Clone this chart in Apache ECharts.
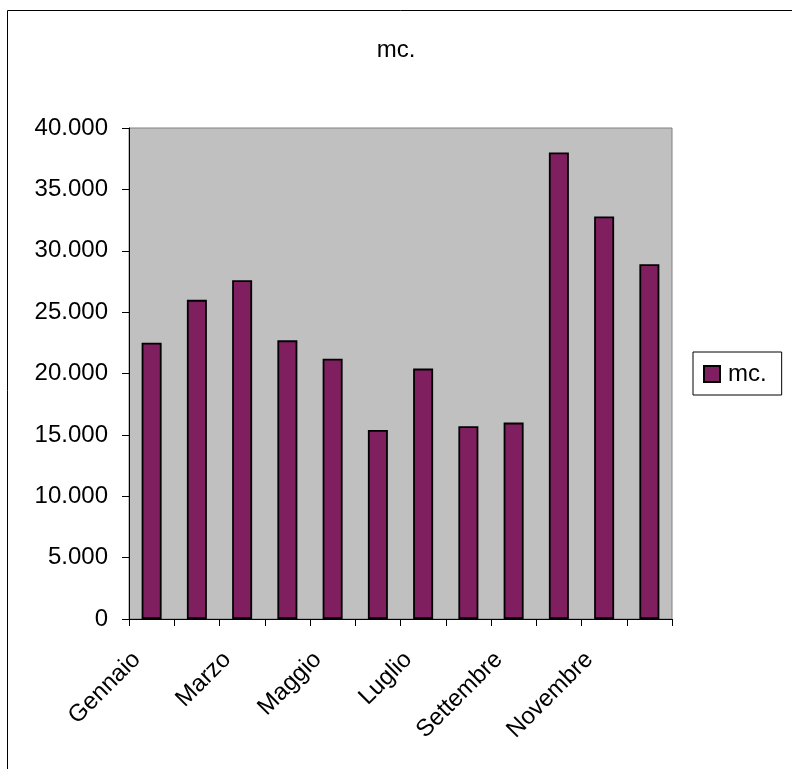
<!DOCTYPE html>
<html>
<head>
<meta charset="utf-8">
<script src="https://cdn.jsdelivr.net/npm/echarts@6/dist/echarts.min.js"></script>
<style>html,body{margin:0;padding:0;background:#fff}#c{width:792px;height:769px}</style>
</head>
<body>
<div id="c"></div>
<script>
const categories = ['Gennaio','Febbraio','Marzo','Aprile','Maggio','Giugno','Luglio','Agosto','Settembre','Ottobre','Novembre','Dicembre'];
const seriesName = 'mc.';
const values = [22500, 26000, 27600, 22700, 21200, 15400, 20400, 15700, 16000, 38000, 32800, 28900];
const yMin = 0, yMax = 40000, yStep = 5000;

const FONT = '"Liberation Sans", Arial, sans-serif';
function fmt(v){ return String(v).replace(/\B(?=(\d{3})+(?!\d))/g, '.'); }

const chart = echarts.init(document.getElementById('c'), null, {renderer:'canvas'});
chart.setOption({
  backgroundColor: '#ffffff',
  animation: false,
  textStyle: { fontFamily: FONT, color: '#000' },
  title: {
    text: seriesName, left: 'center', top: 33,
    textStyle: { fontFamily: FONT, fontSize: 24, fontWeight: 'normal', color: '#000' }
  },
  legend: {
    left: 693, top: 352, orient: 'vertical',
    padding: [10, 15, 9, 10],
    borderColor: '#000', borderWidth: 1,
    itemWidth: 16, itemHeight: 16, itemGap: 0,
    textStyle: { fontFamily: FONT, fontSize: 24, color: '#000', padding: [0,0,0,3] },
    data: [{ name: seriesName, icon: 'rect' }]
  },
  graphic: [{
    type: 'rect', silent: true, z: 100,
    shape: { x: 7.5, y: 10.5, width: 900, height: 900 },
    style: { fill: 'none', stroke: '#000', lineWidth: 1 }
  }],
  grid: {
    left: 129, top: 128, width: 543, height: 491,
    show: true, backgroundColor: '#c0c0c0', borderColor: '#808080', borderWidth: 1
  },
  xAxis: {
    type: 'category', data: categories, boundaryGap: true,
    axisLine: { lineStyle: { color: '#000', width: 1 } },
    axisTick: { show: true, length: 7, interval: 0, alignWithLabel: false, lineStyle: { color: '#000' } },
    axisLabel: { interval: 1, rotate: 45, margin: 22, padding: [0, 21, 0, 0], fontFamily: FONT, fontSize: 24, color: '#000' },
    splitLine: { show: false }
  },
  yAxis: {
    type: 'value', min: yMin, max: yMax, interval: yStep,
    axisLine: { show: true, lineStyle: { color: '#000', width: 1 } },
    axisTick: { show: true, length: 7, lineStyle: { color: '#000' } },
    axisLabel: { margin: 21, fontFamily: FONT, fontSize: 24, color: '#000', formatter: fmt },
    splitLine: { show: false }
  },
  series: [{
    name: seriesName, type: 'bar', data: values, barWidth: 20,
    itemStyle: { color: '#801f5f', borderColor: '#000', borderWidth: 1.8 }
  }]
});
</script>
</body>
</html>
